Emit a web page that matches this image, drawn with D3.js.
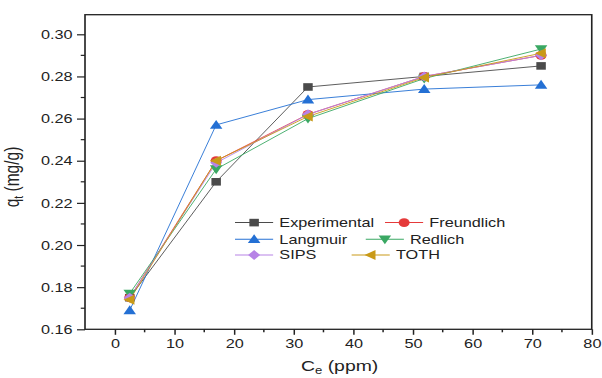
<!DOCTYPE html>
<html>
<head>
<meta charset="utf-8">
<script src="https://cdn.jsdelivr.net/npm/d3@7"></script>
<style>
  html, body { margin: 0; padding: 0; background: #fff; }
  svg { display: block; }
  text { font-family: "Liberation Sans", Arial, sans-serif; fill: #222; }
</style>
</head>
<body>
<svg id="chart"></svg>
<script>
// Equilibrium concentration (ppm)
const ce = [2.5, 17.0, 32.4, 51.9, 71.5];

// Adsorbed amount q_t (mg/g), measured and isotherm fits
const experimental = [0.175, 0.230, 0.275, 0.280, 0.285];
const freundlich   = [0.175, 0.240, 0.262, 0.280, 0.290];
const langmuir     = [0.169, 0.257, 0.269, 0.274, 0.276];
const redlich      = [0.177, 0.236, 0.260, 0.279, 0.293];
const sips         = [0.175, 0.239, 0.262, 0.280, 0.290];
const toth         = [0.174, 0.240, 0.261, 0.2795, 0.291];

const seriesNames = ["Experimental", "Freundlich", "Langmuir", "Redlich", "SIPS", "TOTH"];

const xTicks = [0, 10, 20, 30, 40, 50, 60, 70, 80];
const yTicks = [0.16, 0.18, 0.20, 0.22, 0.24, 0.26, 0.28, 0.30];

// ---- drawing ----
const W = 602, H = 378;
const SX = 1.25;               // horizontal stretch of the whole figure
const IW = W / SX;

const svg = d3.select("#chart")
  .attr("width", W).attr("height", H)
  .attr("viewBox", `0 0 ${IW} ${H}`)
  .attr("preserveAspectRatio", "none");

const plotL = 68, plotR = 473.4, plotT = 14.7, plotB = 329.3;

const x = d3.scaleLinear().domain([-5, 80]).range([plotL, plotR]);
const y = d3.scaleLinear().domain([0.16, 0.3093]).range([plotB, plotT]);

// custom marker shapes
const sym = {
  square:  { draw(c) { c.rect(-3.8, -3.8, 7.6, 7.6); } },
  circle:  { draw(c) { c.moveTo(4.4, 0); c.arc(0, 0, 4.4, 0, 2 * Math.PI); } },
  triUp:   { draw(c) { c.moveTo(0, -5); c.lineTo(5, 3.8); c.lineTo(-5, 3.8); c.closePath(); } },
  triDown: { draw(c) { c.moveTo(0, 5); c.lineTo(5, -3.8); c.lineTo(-5, -3.8); c.closePath(); } },
  diamond: { draw(c) { c.moveTo(0, -5); c.lineTo(4.8, 0); c.lineTo(0, 5); c.lineTo(-4.8, 0); c.closePath(); } },
  triLeft: { draw(c) { c.moveTo(-5, 0); c.lineTo(3.8, -5); c.lineTo(3.8, 5); c.closePath(); } }
};

const series = [
  { name: seriesNames[0], values: experimental, color: "#4b4b4b", shape: sym.square },
  { name: seriesNames[1], values: freundlich,   color: "#e53a3a", shape: sym.circle },
  { name: seriesNames[2], values: langmuir,     color: "#2470d4", shape: sym.triUp },
  { name: seriesNames[3], values: redlich,      color: "#3aa863", shape: sym.triDown },
  { name: seriesNames[4], values: sips,         color: "#b783e6", shape: sym.diamond },
  { name: seriesNames[5], values: toth,         color: "#c99a18", shape: sym.triLeft }
];

// axes
const yAxis = d3.axisLeft(y).tickValues(yTicks).tickFormat(d3.format(".2f"))
  .tickSize(6.4).tickPadding(3.5);
const gy = svg.append("g").attr("transform", `translate(${plotL},0)`).call(yAxis);

const xAxis = d3.axisBottom(x).tickValues(xTicks).tickFormat(d3.format("d"))
  .tickSize(5.5).tickPadding(4);
const gx = svg.append("g").attr("transform", `translate(0,${plotB})`).call(xAxis);

[gx, gy].forEach(g => {
  g.select(".domain").remove();
  g.selectAll(".tick line").attr("stroke", "#222").attr("stroke-width", 1.2);
  g.selectAll(".tick text").attr("font-size", 13).attr("fill", "#222")
    .attr("font-family", "Liberation Sans, Arial, sans-serif");
});

// minor ticks
const yMinor = d3.range(0.17, 0.30, 0.02);
svg.append("g").selectAll("line").data(yMinor).join("line")
  .attr("x1", plotL).attr("x2", plotL - 3.4)
  .attr("y1", d => y(d)).attr("y2", d => y(d))
  .attr("stroke", "#222").attr("stroke-width", 1.2);
const xMinor = d3.range(5, 80, 10);
svg.append("g").selectAll("line").data(xMinor).join("line")
  .attr("y1", plotB).attr("y2", plotB + 3)
  .attr("x1", d => x(d)).attr("x2", d => x(d))
  .attr("stroke", "#222").attr("stroke-width", 1.2);

// frame
svg.append("rect")
  .attr("x", plotL).attr("y", plotT)
  .attr("width", plotR - plotL).attr("height", plotB - plotT)
  .attr("fill", "none").attr("stroke", "#222").attr("stroke-width", 1.3);

// series lines and markers
const line = d3.line().x((d, i) => x(ce[i])).y(d => y(d));
series.forEach(s => {
  svg.append("path").datum(s.values)
    .attr("d", line).attr("fill", "none")
    .attr("stroke", s.color).attr("stroke-width", 0.8);
});
series.forEach(s => {
  svg.append("g").selectAll("path").data(s.values).join("path")
    .attr("d", d3.symbol().type(s.shape))
    .attr("transform", (d, i) => `translate(${x(ce[i])},${y(d)})`)
    .attr("fill", s.color);
});

// legend (two columns, three rows)
const legendRows = [227, 243.6, 259.3];
const legendItems = [
  { s: 0, lx: 188, row: 0 }, { s: 1, lx: 308, row: 0 },
  { s: 2, lx: 188, row: 1 }, { s: 3, lx: 292.6, row: 1 },
  { s: 4, lx: 188, row: 2 }, { s: 5, lx: 281.3, row: 2 }
];
const lg = svg.append("g");
legendItems.forEach(it => {
  const s = series[it.s];
  const cy = legendRows[it.row] - 4.4;
  lg.append("line").attr("x1", it.lx).attr("x2", it.lx + 30.5)
    .attr("y1", cy).attr("y2", cy)
    .attr("stroke", s.color).attr("stroke-width", 1);
  lg.append("path").attr("d", d3.symbol().type(s.shape)())
    .attr("transform", `translate(${it.lx + 15.3},${cy})`)
    .attr("fill", s.color);
  lg.append("text").attr("x", it.lx + 35.5).attr("y", legendRows[it.row])
    .attr("font-size", 13).text(s.name);
});

// axis titles
const xt = svg.append("text").attr("x", (plotL + plotR) / 2 + 1).attr("y", 371)
  .attr("text-anchor", "middle").attr("font-size", 15.5);
xt.append("tspan").text("C");
xt.append("tspan").attr("font-size", 10.5).attr("dy", 3).text("e");
xt.append("tspan").attr("dy", -3).text(" (ppm)");

const yt = svg.append("text")
  .attr("transform", `translate(15,177) rotate(-90)`)
  .attr("text-anchor", "middle").attr("font-size", 15.5);
yt.append("tspan").text("q");
yt.append("tspan").attr("font-size", 10.5).attr("dy", 3.5).text("t");
yt.append("tspan").attr("dy", -3.5).text(" (mg/g)");
</script>
</body>
</html>
